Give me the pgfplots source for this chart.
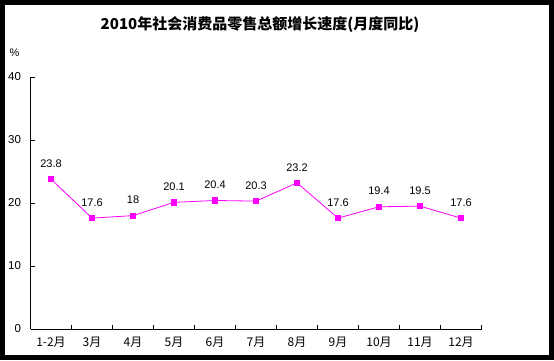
\documentclass[border=0pt]{standalone}
\usepackage{fontspec}
\setmainfont{Liberation Sans}
\newfontfamily\cjk{Noto Sans CJK SC}
\usepackage{pgfplots}
\pgfplotsset{compat=1.18}
\definecolor{mag}{RGB}{255,0,255}
\begin{document}
\begin{tikzpicture}[x=1pt,y=1pt]
\useasboundingbox (0,0) rectangle (554,360);
\fill[white] (0,0) rectangle (554,360);
\begin{axis}[
  at={(30.5pt,31pt)}, anchor=south west,
  scale only axis, width=451pt, height=252pt,
  xmin=0, xmax=11, ymin=0, ymax=40,
  axis x line*=bottom, axis y line*=left,
  axis line style={black, line width=0.8pt},
  tick style={black, line width=0.8pt},
  tick align=inside, major tick length=4pt,
  xtick={0,...,11},
  xticklabels={1-2月,3月,4月,5月,6月,7月,8月,9月,10月,11月,12月},
  x tick label as interval,
  ytick={0,10,20,30,40},
  yticklabel style={font=\fontsize{11.5}{13}\selectfont, xshift=-6pt},
  xticklabel style={font=\cjk\fontsize{12}{14}\selectfont, yshift=-5pt},
  /pgf/number format/assume math mode=true,
  clip=false,
]
\addplot[color=mag, line width=0.8pt, mark=square*, mark size=2.6pt,
  mark options={fill=mag, draw=mag},
  nodes near coords,
  point meta=explicit symbolic,
  every node near coord/.append style={font=\fontsize{11}{13}\selectfont, text=black, yshift=8pt}]
  coordinates {
  (0.5,23.8) [23.8]
  (1.5,17.6) [17.6]
  (2.5,18) [18]
  (3.5,20.1) [20.1]
  (4.5,20.4) [20.4]
  (5.5,20.3) [20.3]
  (6.5,23.2) [23.2]
  (7.5,17.6) [17.6]
  (8.5,19.4) [19.4]
  (9.5,19.5) [19.5]
  (10.5,17.6) [17.6]
  };
\end{axis}
\node at (260,335) {\cjk\bfseries\fontsize{15}{17}\selectfont 2010年社会消费品零售总额增长速度(月度同比)};
\node at (14.5,307) {\fontsize{11}{13}\selectfont \%};
\draw[line width=5pt] (2.5,2.5) rectangle (551.5,357.5);
\end{tikzpicture}
\end{document}
